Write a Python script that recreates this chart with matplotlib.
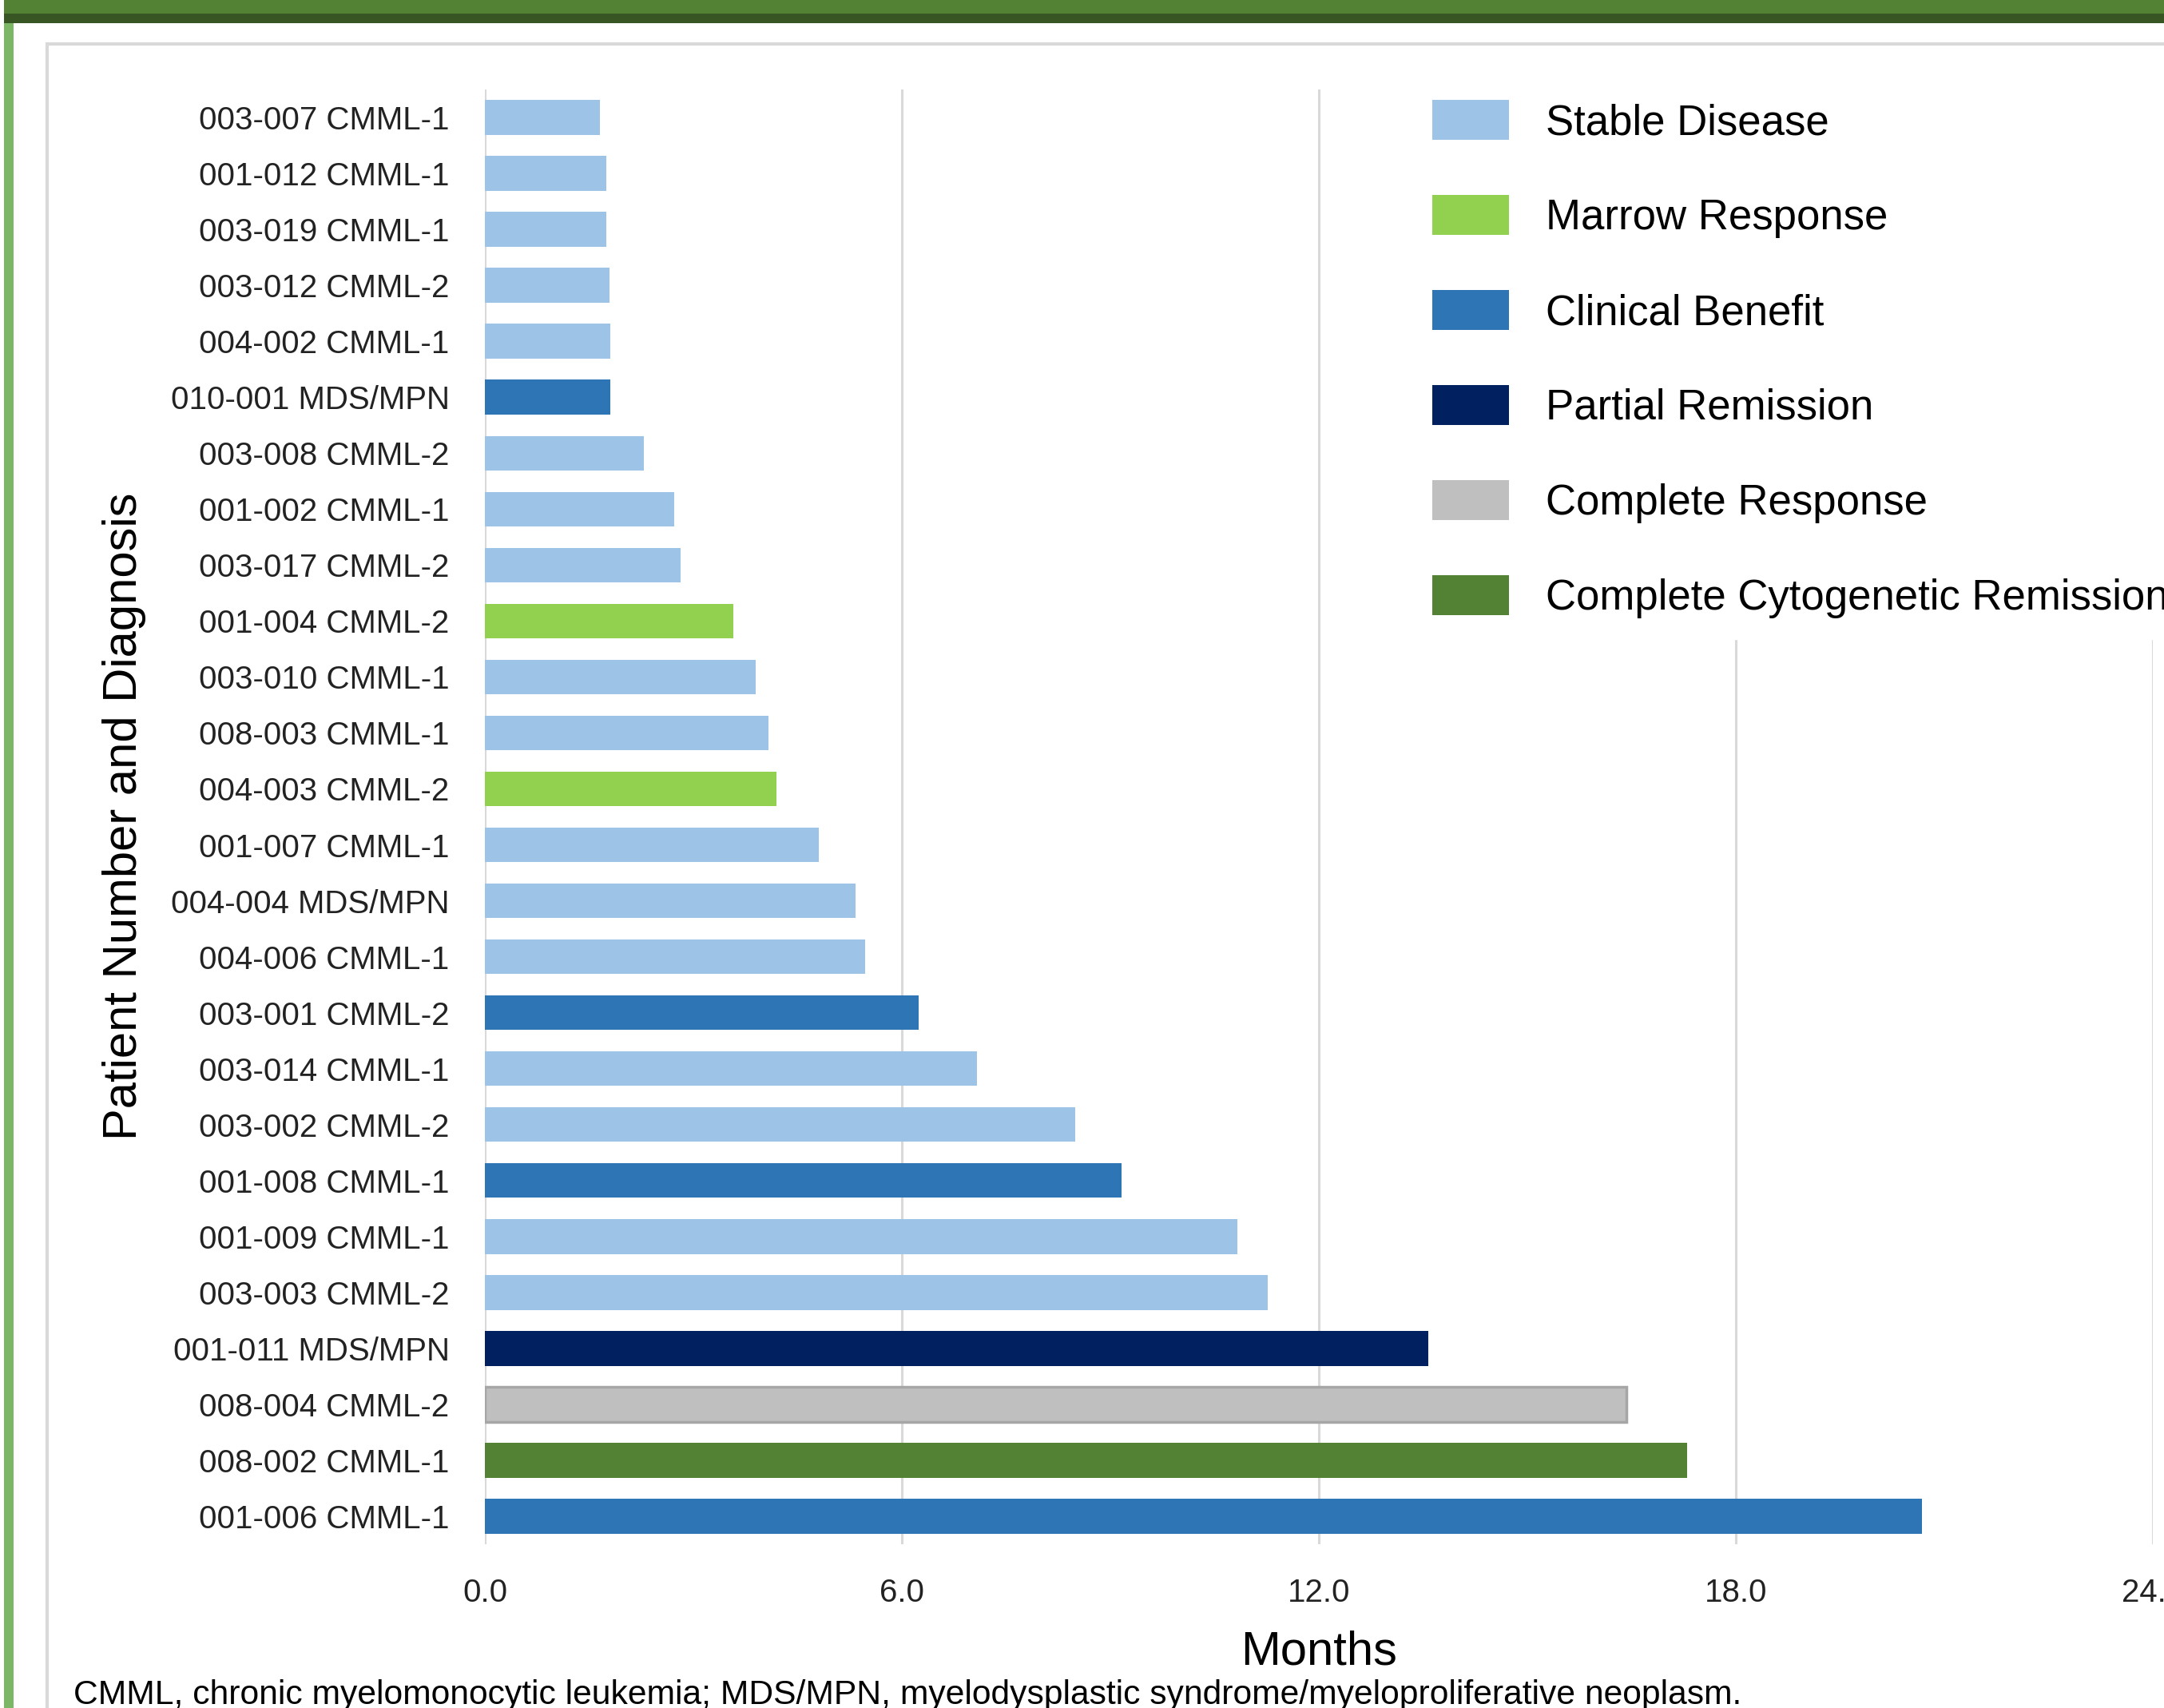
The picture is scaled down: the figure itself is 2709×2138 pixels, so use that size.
import matplotlib.pyplot as plt
from matplotlib.patches import Patch, Rectangle

patients = ['003-007 CMML-1', '001-012 CMML-1', '003-019 CMML-1', '003-012 CMML-2',
            '004-002 CMML-1', '010-001 MDS/MPN', '003-008 CMML-2', '001-002 CMML-1',
            '003-017 CMML-2', '001-004 CMML-2', '003-010 CMML-1', '008-003 CMML-1',
            '004-003 CMML-2', '001-007 CMML-1', '004-004 MDS/MPN', '004-006 CMML-1',
            '003-001 CMML-2', '003-014 CMML-1', '003-002 CMML-2', '001-008 CMML-1',
            '001-009 CMML-1', '003-003 CMML-2', '001-011 MDS/MPN', '008-004 CMML-2',
            '008-002 CMML-1', '001-006 CMML-1']
months = [1.65, 1.75, 1.75, 1.79, 1.81, 1.81, 2.29, 2.72, 2.82, 3.58, 3.90, 4.08, 4.19,
          4.81, 5.33, 5.47, 6.24, 7.08, 8.49, 9.16, 10.83, 11.27, 13.58, 16.42, 17.30, 20.68]
response = ['Stable Disease'] * 5 + ['Clinical Benefit'] + ['Stable Disease'] * 3 + \
           ['Marrow Response', 'Stable Disease', 'Stable Disease', 'Marrow Response',
            'Stable Disease', 'Stable Disease', 'Stable Disease', 'Clinical Benefit',
            'Stable Disease', 'Stable Disease', 'Clinical Benefit', 'Stable Disease',
            'Stable Disease', 'Partial Remission', 'Complete Response',
            'Complete Cytogenetic Remission', 'Clinical Benefit']

categories = ['Stable Disease', 'Marrow Response', 'Clinical Benefit', 'Partial Remission',
              'Complete Response', 'Complete Cytogenetic Remission']
colors = ['#9dc3e6', '#92d050', '#2e75b6', '#002060', '#bfbfbf', '#548235']
color_map = dict(zip(categories, colors))

xticks = [0, 6, 12, 18, 24]

W, H = 2709, 2138
fig = plt.figure(figsize=(W / 100, H / 100), dpi=100)
ax = fig.add_axes([607 / W, 1 - 1933 / H, (2695 - 607) / W, (1933 - 112) / H])

ypos = list(range(len(patients)))
bar_colors = [color_map[r] for r in response]
edges = ['#a6a6a6' if r == 'Complete Response' else 'none' for r in response]
ax.barh(ypos, months, height=0.62, color=bar_colors, edgecolor=edges, linewidth=2.5, zorder=3)

ax.set_ylim(25.5, -0.5)
ax.set_xlim(0, 24)
ax.set_xticks(xticks)
ax.set_xticklabels([f'{v:.1f}' for v in xticks])
ax.set_yticks(ypos)
ax.set_yticklabels(patients)
ax.tick_params(axis='both', length=0, labelsize=29, colors='#222222')
ax.tick_params(axis='y', pad=32)
ax.tick_params(axis='x', pad=30)
for lab in ax.get_xticklabels() + ax.get_yticklabels():
    lab.set_family('Liberation Sans')
ax.grid(axis='x', color='#d9d9d9', linewidth=2.2, zorder=0)
for s in ax.spines.values():
    s.set_visible(False)

handles = [Patch(facecolor=c, label=l) for l, c in zip(categories, colors)]
leg = ax.legend(handles=handles, loc='upper left', bbox_to_anchor=(1767 / W, 1 - 99 / H),
                bbox_transform=fig.transFigure, frameon=True, facecolor='white',
                edgecolor='white', framealpha=1, fancybox=False, borderaxespad=0,
                borderpad=0.5, handlelength=1.81, handleheight=1.08, handletextpad=0.87,
                labelspacing=1.23, prop={'family': 'Liberation Sans', 'size': 38})
leg.set_zorder(5)

fig.text(156 / W, 1 - 1022 / H, 'Patient Number and Diagnosis', rotation=90,
         ha='center', va='center', fontsize=43, family='Liberation Sans')
fig.text(1651 / W, 1 - 2068 / H, 'Months', ha='center', va='center',
         fontsize=43, family='Liberation Sans')
fig.text(92 / W, 1 - 2133 / H,
         'CMML, chronic myelomonocytic leukemia; MDS/MPN, myelodysplastic syndrome/myeloproliferative neoplasm.',
         ha='left', va='baseline', fontsize=30.7, family='Liberation Sans')

# page decorations: green header band, left green bar, light gray chart frame
fig.add_artist(Rectangle((5 / W, 1 - 17 / H), 1, 17 / H, transform=fig.transFigure,
                         facecolor='#548235', edgecolor='none'))
fig.add_artist(Rectangle((5 / W, 1 - 29 / H), 1, 12 / H, transform=fig.transFigure,
                         facecolor='#375623', edgecolor='none'))
fig.add_artist(Rectangle((5 / W, 0), 12 / W, 1 - 29 / H, transform=fig.transFigure,
                         facecolor='#7cb765', edgecolor='none'))
fig.add_artist(Rectangle((59 / W, -0.1), 1, 1.1 - 55 / H, transform=fig.transFigure,
                         facecolor='none', edgecolor='#d9d9d9', linewidth=3))

fig.savefig('out.png', dpi=100)
